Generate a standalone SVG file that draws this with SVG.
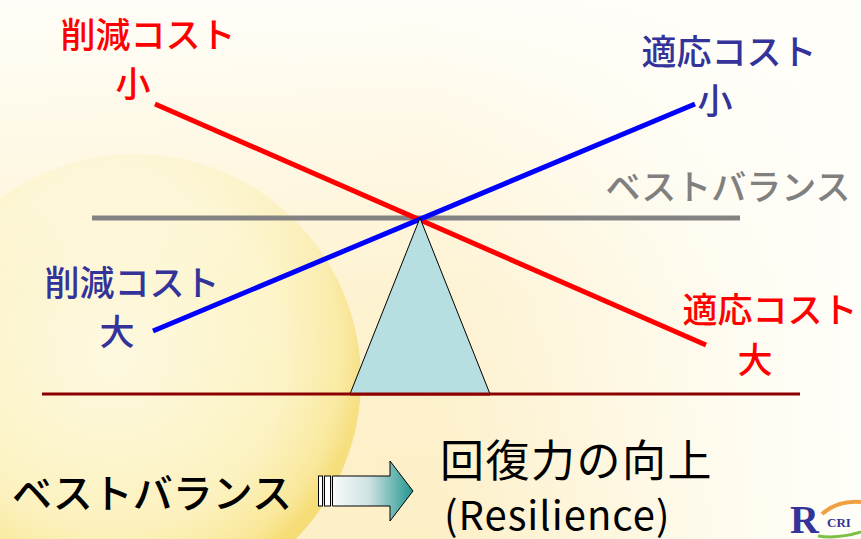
<svg xmlns="http://www.w3.org/2000/svg" width="861" height="539" viewBox="0 0 861 539">
  <defs>
    <linearGradient id="bgH" x1="0" y1="0" x2="1" y2="0">
      <stop offset="0" stop-color="#fdf2cc"/>
      <stop offset="0.5" stop-color="#fdefc6"/>
      <stop offset="0.8" stop-color="#fefaea"/>
      <stop offset="1" stop-color="#fffef9"/>
    </linearGradient>
    <linearGradient id="bgV" x1="0" y1="0" x2="0" y2="1">
      <stop offset="0" stop-color="#fffefa" stop-opacity="0.95"/>
      <stop offset="0.55" stop-color="#fffefa" stop-opacity="0.2"/>
      <stop offset="1" stop-color="#fffefa" stop-opacity="0"/>
    </linearGradient>
    <radialGradient id="globe" cx="0.45" cy="0.45" r="0.55">
      <stop offset="0" stop-color="#fdf8dc"/>
      <stop offset="0.7" stop-color="#fcf1bc"/>
      <stop offset="0.92" stop-color="#f9e796"/>
      <stop offset="1" stop-color="#f5dc74"/>
    </radialGradient>
    <linearGradient id="arrowFill" x1="0" y1="0" x2="1" y2="0">
      <stop offset="0" stop-color="#f6fafa"/>
      <stop offset="0.45" stop-color="#cfe3e2"/>
      <stop offset="1" stop-color="#22958f"/>
    </linearGradient>
    <style>
      .jp { font-family: "Noto Sans CJK JP", "Noto Sans", sans-serif; font-weight: 500; }
      .reg { font-weight: 400; }
      .red { fill: #ff0000; }
      .navy { fill: #333399; }
      .gray { fill: #808080; }
      .blk { fill: #000000; }
      .lbl { font-size: 35px; }
      .big { font-size: 40px; }
    </style>
  </defs>

  <!-- background -->
  <rect width="861" height="539" fill="url(#bgH)"/>
  <circle cx="135" cy="380" r="226" fill="url(#globe)"/>
  <rect width="861" height="539" fill="url(#bgV)"/>

  <!-- connectors: balance beams and ground -->
  <g id="connectors" stroke-linecap="butt">
    <line x1="92" y1="218" x2="740" y2="218" stroke="#838383" stroke-width="5"/>
    <line x1="42" y1="394" x2="800" y2="394" stroke="#8b0000" stroke-width="3"/>
    <line x1="155" y1="104" x2="706" y2="345" stroke="#ff0000" stroke-width="5"/>
    <line x1="153" y1="331" x2="695" y2="104" stroke="#0000ff" stroke-width="5"/>
  </g>

  <!-- fulcrum -->
  <g id="fulcrum">
    <polygon points="420,218 350,394 490,394" fill="#b7dfe2" stroke="#000" stroke-width="1"/>
    <line x1="350" y1="394" x2="490" y2="394" stroke="#8b0000" stroke-width="3"/>
  </g>

  <g id="reduce-cost-small" class="jp red lbl">
    <text x="148" y="48" text-anchor="middle">削減コスト</text>
    <text x="133" y="97" text-anchor="middle">小</text>
  </g>

  <g id="adapt-cost-small" class="jp navy lbl">
    <text x="729" y="65" text-anchor="middle">適応コスト</text>
    <text x="715" y="114" text-anchor="middle">小</text>
  </g>

  <g id="best-balance" class="jp gray lbl">
    <text x="728" y="200" text-anchor="middle">ベストバランス</text>
  </g>

  <g id="reduce-cost-large" class="jp navy lbl">
    <text x="132" y="296" text-anchor="middle">削減コスト</text>
    <text x="117" y="345" text-anchor="middle">大</text>
  </g>

  <g id="adapt-cost-large" class="jp red lbl">
    <text x="770" y="323" text-anchor="middle">適応コスト</text>
    <text x="755" y="373" text-anchor="middle">大</text>
  </g>

  <g id="balance-caption" class="jp blk big">
    <text x="152" y="508" text-anchor="middle">ベストバランス</text>
  </g>

  <g id="arrow">
    <rect x="318.5" y="476" width="4" height="30" fill="#ffffff" stroke="#000" stroke-width="1"/>
    <rect x="324.5" y="476" width="6" height="30" fill="#ffffff" stroke="#000" stroke-width="1"/>
    <polygon points="332.5,476 390,476 390,461 413,491 390,521 390,506 332.5,506" fill="url(#arrowFill)" stroke="#000" stroke-width="1"/>
  </g>

  <g id="resilience" class="jp reg blk">
    <text x="440" y="477" font-size="44" letter-spacing="1.5">回復力の向上</text>
    <text x="444" y="530" font-size="40" letter-spacing="1">(Resilience)</text>
  </g>

  <g id="logo">
    <path d="M 822 514 Q 838 500 861 502" fill="none" stroke="#f0a040" stroke-width="4"/>
    <path d="M 818 536 Q 838 539 861 532" fill="none" stroke="#7cc043" stroke-width="3"/>
    <text x="790" y="533" font-family="Liberation Serif, serif" font-weight="bold" font-size="40" fill="#333399">R</text>
    <text x="827" y="527" font-family="Liberation Serif, serif" font-weight="bold" font-size="13" fill="#333399">CRI</text>
  </g>
</svg>
